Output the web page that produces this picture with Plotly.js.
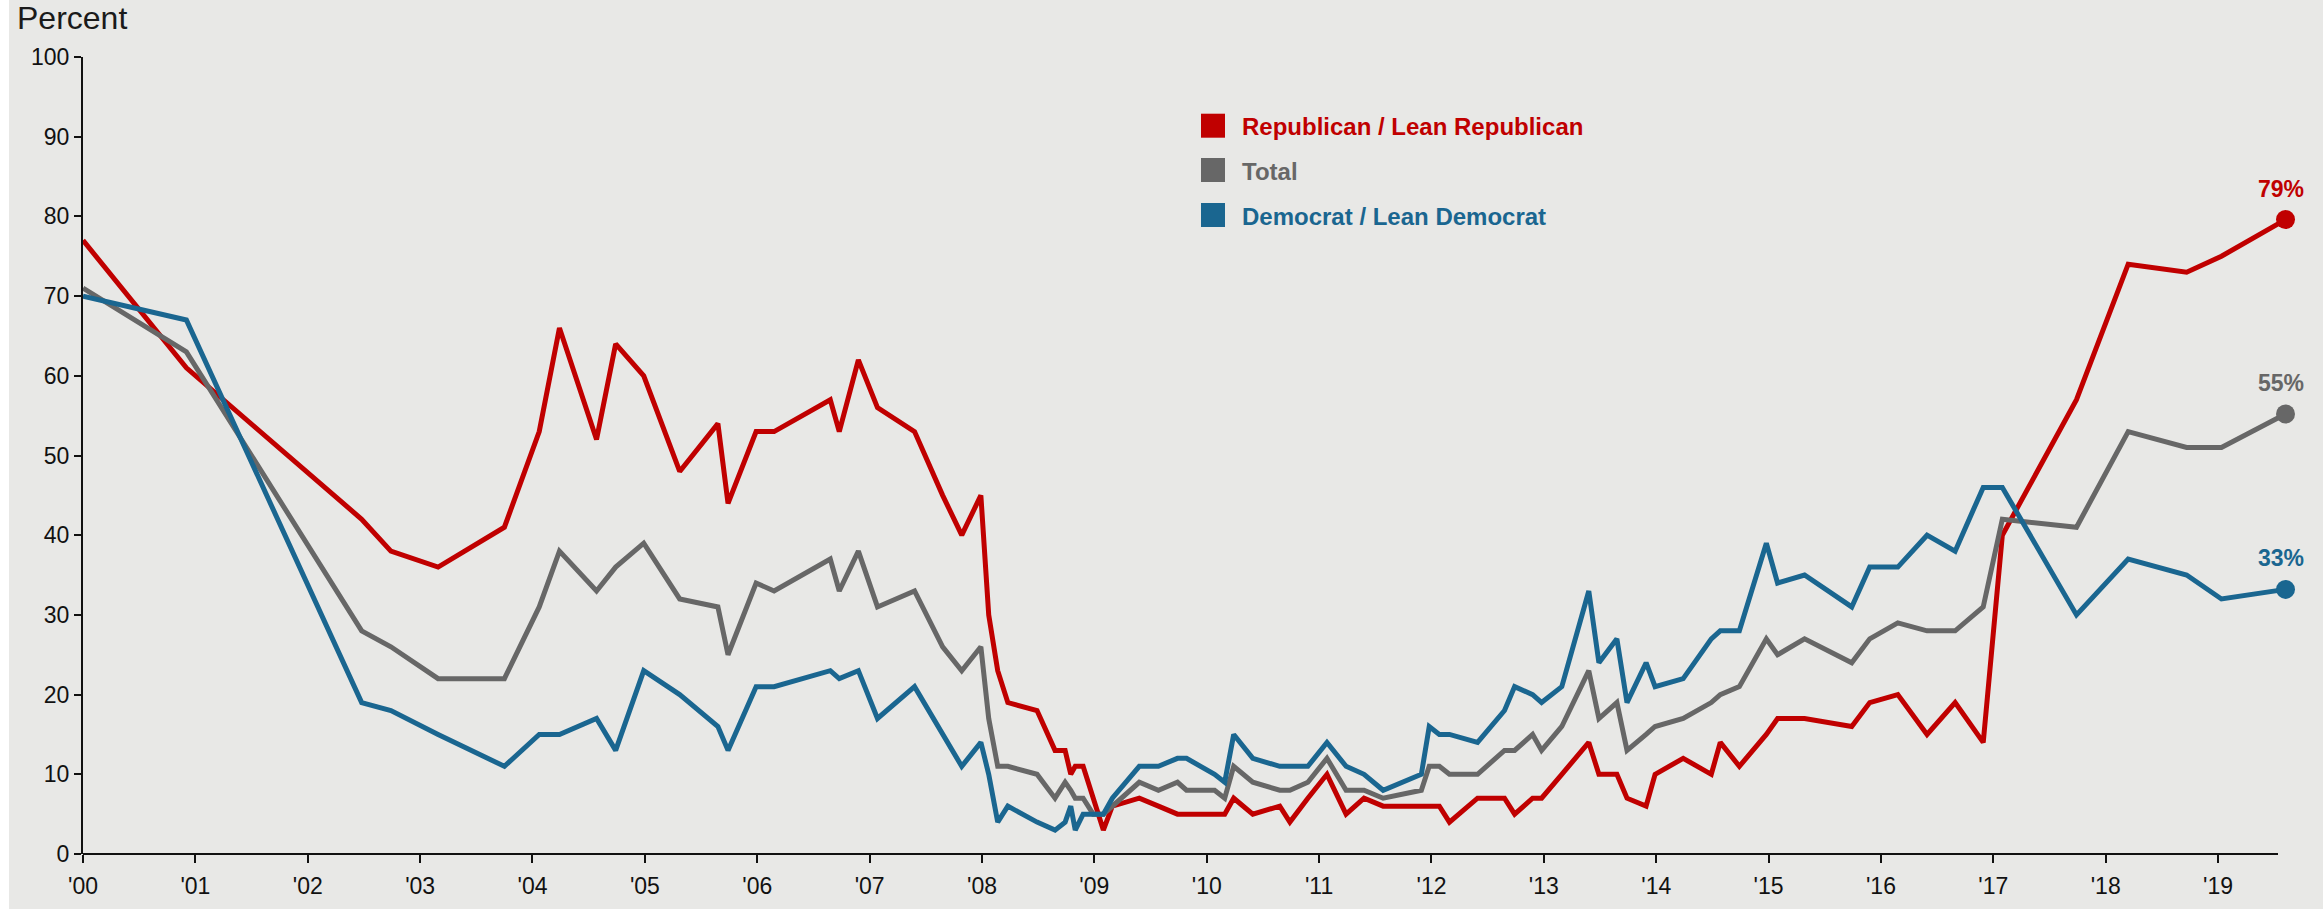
<!DOCTYPE html>
<html>
<head>
<meta charset="utf-8">
<script src="https://cdn.plot.ly/plotly-3.0.1.min.js"></script>
<style>
  html, body { margin: 0; padding: 0; background: #ffffff; overflow: hidden; }
  #chart { position: absolute; left: 9px; top: 0; width: 2314px; height: 909px; }
</style>
</head>
<body>
<div id="chart"></div>
<script>
// ---------------- DATA ----------------
const dates = [
  2000.00, 2000.92, 2002.48, 2002.74, 2003.16, 2003.75, 2004.06, 2004.24, 2004.57, 2004.74,
  2004.99, 2005.31, 2005.65, 2005.74, 2005.99, 2006.15, 2006.65, 2006.73, 2006.90, 2007.07,
  2007.40, 2007.65, 2007.82, 2007.99, 2008.06, 2008.14, 2008.23, 2008.49, 2008.65, 2008.74,
  2008.79, 2008.83, 2008.90, 2008.99, 2009.08, 2009.16, 2009.40, 2009.57, 2009.74, 2009.82,
  2009.94, 2010.07, 2010.16, 2010.24, 2010.41, 2010.65, 2010.74, 2010.90, 2011.07, 2011.24,
  2011.40, 2011.57, 2011.91, 2011.98, 2012.07, 2012.16, 2012.41, 2012.65, 2012.74, 2012.90,
  2012.98, 2013.16, 2013.40, 2013.49, 2013.65, 2013.74, 2013.91, 2013.99, 2014.24, 2014.49,
  2014.57, 2014.74, 2014.98, 2015.08, 2015.32, 2015.74, 2015.90, 2016.15, 2016.41, 2016.66,
  2016.91, 2017.08, 2017.74, 2018.20, 2018.72, 2019.03, 2019.60
];
const republican = [
  77, 61, 42, 38, 36, 41, 53, 66, 52, 64,
  60, 48, 54, 44, 53, 53, 57, 53, 62, 56,
  53, 45, 40, 45, 30, 23, 19, 18, 13, 13,
  10, 11, 11, 7, 3, 6, 7, 6, 5, 5,
  5, 5, 5, 7, 5, 6, 4, 7, 10, 5,
  7, 6, 6, 6, 6, 4, 7, 7, 5, 7,
  7, 10, 14, 10, 10, 7, 6, 10, 12, 10,
  14, 11, 15, 17, 17, 16, 19, 20, 15, 19,
  14, 40, 57, 74, 73, 75, 79.6
];
const total = [
  71, 63, 28, 26, 22, 22, 31, 38, 33, 36,
  39, 32, 31, 25, 34, 33, 37, 33, 38, 31,
  33, 26, 23, 26, 17, 11, 11, 10, 7, 9,
  8, 7, 7, 5, 5, 6, 9, 8, 9, 8,
  8, 8, 7, 11, 9, 8, 8, 9, 12, 8,
  8, 7, 8, 11, 11, 10, 10, 13, 13, 15,
  13, 16, 23, 17, 19, 13, 15, 16, 17, 19,
  20, 21, 27, 25, 27, 24, 27, 29, 28, 28,
  31, 42, 41, 53, 51, 51, 55.2
];
const democrat = [
  70, 67, 19, 18, 15, 11, 15, 15, 17, 13,
  23, 20, 16, 13, 21, 21, 23, 22, 23, 17,
  21, 15, 11, 14, 10, 4, 6, 4, 3, 4,
  6, 3, 5, 5, 5, 7, 11, 11, 12, 12,
  11, 10, 9, 15, 12, 11, 11, 11, 14, 11,
  10, 8, 10, 16, 15, 15, 14, 18, 21, 20,
  19, 21, 33, 24, 27, 19, 24, 21, 22, 27,
  28, 28, 39, 34, 35, 31, 36, 36, 40, 38,
  46, 46, 30, 37, 35, 32, 33.2
];
const seriesNames = ['Republican / Lean Republican', 'Total', 'Democrat / Lean Democrat'];
const seriesColors = ['#C00000', '#676767', '#1A6690'];
const endLabels = ['79%', '55%', '33%'];
const tickYears = [2000,2001,2002,2003,2004,2005,2006,2007,2008,2009,2010,2011,2012,2013,2014,2015,2016,2017,2018,2019];
const tickLabels = ["'00","'01","'02","'03","'04","'05","'06","'07","'08","'09","'10","'11","'12","'13","'14","'15","'16","'17","'18","'19"];
const yTicks = [0,10,20,30,40,50,60,70,80,90,100];

// ---------------- GEOMETRY HELPERS (full-page pixels -> paper) ----------------
const PAGE_OFF = 9;
const PX_PER_YEAR = 112.37;
const X_END = 2019.64;
const W = 2314, H = 909;
const M = {l: 74, t: 57, b: 55};
const plotW = Math.round((X_END - 2000) * PX_PER_YEAR);
M.r = W - M.l - plotW;
const plotL = PAGE_OFF + M.l;
const plotB = H - M.b, plotH = H - M.t - M.b;
const px = x => (x - plotL) / plotW;
const py = y => (plotB - y) / plotH;

const FONT = '"Liberation Sans", Arial, Helvetica, sans-serif';
const seriesVals = [republican, total, democrat];

// ---------------- TRACES ----------------
const traces = [];
[0, 1, 2].forEach(i => {
  traces.push({
    type: 'scatter', mode: 'lines',
    x: dates, y: seriesVals[i],
    line: {color: seriesColors[i], width: 5, shape: 'linear'},
    hoverinfo: 'skip', showlegend: false
  });
});
const last = dates.length - 1;
traces.push({
  type: 'scatter', mode: 'markers',
  x: seriesVals.map(() => dates[last]),
  y: seriesVals.map(v => v[last]),
  marker: {color: seriesColors, size: 19, line: {width: 0}},
  cliponaxis: false, hoverinfo: 'skip', showlegend: false
});

// ---------------- ANNOTATIONS & SHAPES ----------------
const annotations = [];
const shapes = [];

// x-axis baseline (ends a little before the last survey point, as in the original)
shapes.push({
  type: 'line', xref: 'paper', yref: 'paper',
  x0: 0, x1: px(2278), y0: 0, y1: 0,
  line: {color: '#111', width: 2}
});

annotations.push({
  text: 'Percent', xref: 'paper', yref: 'paper',
  x: px(15), y: py(18), xanchor: 'left', yanchor: 'middle',
  showarrow: false, font: {family: FONT, size: 32, color: '#1a1a1a'}
});

const legendRowsY = [125.7, 170, 215];
seriesNames.forEach((name, i) => {
  const cy = legendRowsY[i];
  shapes.push({
    type: 'rect', xref: 'paper', yref: 'paper',
    x0: px(1201), x1: px(1225), y0: py(cy + 12), y1: py(cy - 12),
    fillcolor: seriesColors[i], line: {width: 0}
  });
  annotations.push({
    text: name, xref: 'paper', yref: 'paper',
    x: px(1240), y: py(cy + 1), xanchor: 'left', yanchor: 'middle',
    showarrow: false,
    font: {family: FONT, size: 24, color: seriesColors[i], weight: 'bold'}
  });
});

seriesVals.forEach((vals, i) => {
  annotations.push({
    text: endLabels[i], x: dates[last], y: vals[last],
    xref: 'x', yref: 'y', xanchor: 'center', yanchor: 'middle',
    xshift: -5, yshift: 31, showarrow: false,
    font: {family: FONT, size: 23, color: seriesColors[i], weight: 'bold'}
  });
});

// ---------------- LAYOUT ----------------
const layout = {
  width: W, height: H,
  margin: M,
  paper_bgcolor: '#E8E8E6',
  plot_bgcolor: '#E8E8E6',
  font: {family: FONT, size: 23, color: '#111111'},
  showlegend: false,
  xaxis: {
    range: [2000, X_END],
    tickvals: tickYears, ticktext: tickLabels,
    ticks: 'outside', ticklen: 8, tickwidth: 2, tickcolor: '#111',
    ticklabelstandoff: 3,
    showline: false,
    showgrid: false, zeroline: false,
    tickfont: {family: FONT, size: 23, color: '#111'},
    fixedrange: true
  },
  yaxis: {
    range: [0, 100],
    tickvals: yTicks,
    ticks: 'outside', ticklen: 7, tickwidth: 2, tickcolor: '#111',
    showline: true, linecolor: '#111', linewidth: 2,
    showgrid: false, zeroline: false,
    tickfont: {family: FONT, size: 23, color: '#111'},
    fixedrange: true
  },
  annotations: annotations,
  shapes: shapes
};

Plotly.newPlot('chart', traces, layout, {staticPlot: true, displayModeBar: false});
</script>
</body>
</html>
